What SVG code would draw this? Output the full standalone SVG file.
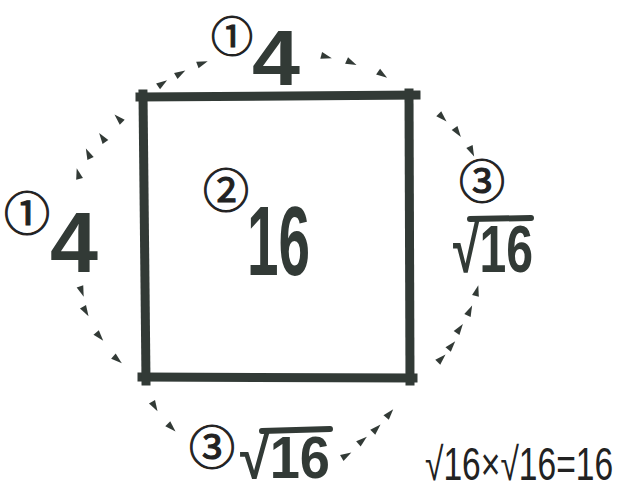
<svg xmlns="http://www.w3.org/2000/svg" xmlns:xlink="http://www.w3.org/1999/xlink" width="623" height="491" viewBox="0 0 623 491">
<style>
.big{font-family:"Liberation Sans","DejaVu Sans",sans-serif;fill:#323a36;font-weight:bold}
.circ{font-family:"Noto Sans CJK JP",sans-serif;fill:#222;stroke:#222;stroke-width:1.1;font-size:46px;text-anchor:middle}
.bar{stroke:#323a36;stroke-width:6;stroke-linecap:round;fill:none}
.side{stroke:#323a36;stroke-width:9;stroke-linecap:square;fill:none}
.eq{font-family:"Liberation Sans",sans-serif;fill:#222}
</style>
<defs>
<path id="d" d="M-6,-3.5 L5,0 L-6,3.5 Z" fill="#323a36"/>
</defs>
<rect width="623" height="491" fill="#fff"/>
<g id="square">
<path class="side" d="M140,97 L416,95"/>
<path class="side" d="M409,93 L410,381"/>
<path class="side" d="M142,377 L413,378"/>
<path class="side" d="M143,94 L146,381"/>
</g>
<g id="arcs">
<use xlink:href="#d" transform="translate(163,83) rotate(-35)"/>
<use xlink:href="#d" transform="translate(181,73) rotate(-30)"/>
<use xlink:href="#d" transform="translate(203,63) rotate(-20)"/>
<use xlink:href="#d" transform="translate(327,57) rotate(15)"/>
<use xlink:href="#d" transform="translate(352,63) rotate(25)"/>
<use xlink:href="#d" transform="translate(383,75) rotate(35)"/>
<use xlink:href="#d" transform="translate(118,118) rotate(-135)"/>
<use xlink:href="#d" transform="translate(102,137) rotate(-125)"/>
<use xlink:href="#d" transform="translate(88,153) rotate(-115)"/>
<use xlink:href="#d" transform="translate(78,173) rotate(-105)"/>
<use xlink:href="#d" transform="translate(82,292) rotate(70)"/>
<use xlink:href="#d" transform="translate(86,312) rotate(60)"/>
<use xlink:href="#d" transform="translate(100,337) rotate(50)"/>
<use xlink:href="#d" transform="translate(118,360) rotate(40)"/>
<use xlink:href="#d" transform="translate(443,118) rotate(45)"/>
<use xlink:href="#d" transform="translate(458,133) rotate(55)"/>
<use xlink:href="#d" transform="translate(472,152) rotate(65)"/>
<use xlink:href="#d" transform="translate(477,290) rotate(-75)"/>
<use xlink:href="#d" transform="translate(470,310) rotate(-65)"/>
<use xlink:href="#d" transform="translate(460,328) rotate(-55)"/>
<use xlink:href="#d" transform="translate(452,345) rotate(-50)"/>
<use xlink:href="#d" transform="translate(442,358) rotate(-45)"/>
<use xlink:href="#d" transform="translate(155,407) rotate(60)"/>
<use xlink:href="#d" transform="translate(172,428) rotate(45)"/>
<use xlink:href="#d" transform="translate(347,455) rotate(-30)"/>
<use xlink:href="#d" transform="translate(363,440) rotate(-40)"/>
<use xlink:href="#d" transform="translate(377,428) rotate(-45)"/>
<use xlink:href="#d" transform="translate(390,413) rotate(-50)"/>
</g>
<g id="top-label">
<text class="circ" x="232" y="52" font-size="42" style="font-size:42px">①</text>
<text class="big" x="276" y="85" font-size="78" text-anchor="middle" textLength="48" lengthAdjust="spacingAndGlyphs">4</text>
</g>
<g id="left-label">
<text class="circ" x="27" y="230">①</text>
<text class="big" x="50" y="272" font-size="86" textLength="48" lengthAdjust="spacingAndGlyphs">4</text>
</g>
<g id="center-label">
<text class="circ" x="226" y="207">②</text>
<text class="big" x="247" y="275" font-size="98" textLength="63" lengthAdjust="spacingAndGlyphs">16</text>
</g>
<g id="right-label">
<text class="circ" x="482" y="198">③</text>
<text class="big" x="453" y="272" font-size="66" textLength="80" lengthAdjust="spacingAndGlyphs">√16</text>
<path class="bar" d="M470,219 L531,218"/>
</g>
<g id="bottom-label">
<text class="circ" x="212" y="464">③</text>
<text class="big" x="240" y="478" font-size="60" textLength="90" lengthAdjust="spacingAndGlyphs">√16</text>
<path class="bar" d="M262,431 L330,429"/>
</g>
<g id="equation">
<text class="eq" font-size="46" transform="translate(425,480) scale(0.73,1)">√16×√16=16</text>
</g>
</svg>
